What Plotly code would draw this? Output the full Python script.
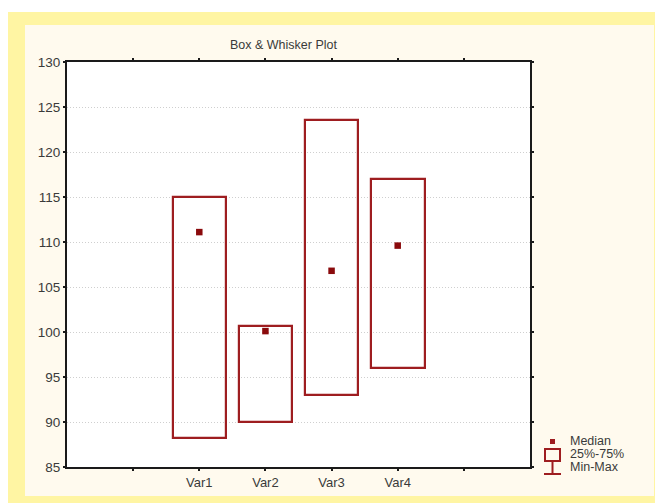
import plotly.graph_objects as go

# ---- data ----
categories = ["Var1", "Var2", "Var3", "Var4"]
q1 = [88.2, 90.0, 93.0, 96.0]
q3 = [115.0, 100.7, 123.6, 117.0]
median = [111.1, 100.1, 106.8, 109.6]
y_ticks = [85, 90, 95, 100, 105, 110, 115, 120, 125, 130]
legend_labels = ["Median", "25%-75%", "Min-Max"]

OFF = 8  # page body margin
W, H = 663 - OFF, 503 - OFF
L, R, T, B = 67 - OFF, 530 - OFF, 62 - OFF, 467 - OFF  # plot area in figure pixels


def X(px):
    return (px - OFF - L) / (R - L)


def Y(py):
    return (B - (py - OFF)) / (B - T)


RED = "#9E1D20"
DARK = "#8A0A0C"
TXT = "#3A3A3A"
FONT = "Liberation Sans, Arial, sans-serif"

xpos = [i + 2 for i in range(len(categories))]

fig = go.Figure()
fig.add_trace(go.Bar(
    x=xpos,
    y=[b - a for a, b in zip(q1, q3)],
    base=q1,
    width=0.81,
    marker=dict(color="rgba(255,255,255,0)", line=dict(color=RED, width=2.2)),
    showlegend=False,
    hoverinfo="skip",
))
fig.add_trace(go.Scatter(
    x=xpos, y=median, mode="markers",
    marker=dict(symbol="square", size=6.5, color=DARK),
    showlegend=False,
))

shapes = [
    dict(type="rect", xref="paper", yref="paper", x0=X(8), x1=X(663), y0=Y(503), y1=Y(12),
         fillcolor="#FFF5A3", line=dict(width=0), layer="below"),
    dict(type="rect", xref="paper", yref="paper", x0=X(25), x1=X(654), y0=Y(496), y1=Y(25),
         fillcolor="#FFFAEE", line=dict(width=0), layer="below"),
    dict(type="rect", xref="paper", yref="paper", x0=0, x1=1, y0=0, y1=1,
         fillcolor="white", line=dict(width=0), layer="below"),
    # legend icon
    dict(type="rect", xref="paper", yref="paper", x0=X(550), x1=X(555), y0=Y(444), y1=Y(439),
         fillcolor=RED, line=dict(width=0)),
    dict(type="rect", xref="paper", yref="paper", x0=X(545), x1=X(560), y0=Y(461), y1=Y(449),
         fillcolor="rgba(0,0,0,0)", line=dict(color=RED, width=2)),
    dict(type="line", xref="paper", yref="paper", x0=X(552.5), x1=X(552.5), y0=Y(474), y1=Y(461),
         line=dict(color=RED, width=2)),
    dict(type="line", xref="paper", yref="paper", x0=X(544), x1=X(561), y0=Y(474), y1=Y(474),
         line=dict(color=RED, width=2)),
]

annotations = [
    dict(text="Box & Whisker Plot", xref="paper", yref="paper", x=X(284), y=Y(45),
         showarrow=False, font=dict(size=12.5, color=TXT, family=FONT), xanchor="center", yanchor="middle"),
]
for i, lab in enumerate(legend_labels):
    annotations.append(dict(text=lab, xref="paper", yref="paper", x=X(568), y=Y(441 + 13 * i),
                            showarrow=False, font=dict(size=12.5, color=TXT, family=FONT),
                            xanchor="left", yanchor="middle"))

fig.update_layout(
    width=W, height=H,
    margin=dict(l=L, r=W - R, t=T, b=H - B, pad=0),
    paper_bgcolor="white",
    plot_bgcolor="rgba(0,0,0,0)",
    shapes=shapes,
    annotations=annotations,
    font=dict(family=FONT, size=13, color=TXT),
    bargap=0,
)
fig.update_xaxes(
    range=[0, 7],
    tickvals=[1, 2, 3, 4, 5, 6],
    ticktext=[""] + categories + [""],
    showgrid=False, zeroline=False,
    showline=True, linecolor="#1a1a1a", linewidth=2, mirror="allticks",
    ticks="outside", ticklen=2, tickwidth=2, tickcolor="#1a1a1a",
    tickfont=dict(size=13, color=TXT),
)
fig.update_yaxes(
    range=[85, 130],
    tickvals=y_ticks,
    showgrid=True, gridcolor="#CFCFCF", griddash="1px,2px", gridwidth=1,
    zeroline=False,
    showline=True, linecolor="#1a1a1a", linewidth=2, mirror="allticks",
    ticks="outside", ticklen=2, tickwidth=2, tickcolor="#1a1a1a",
    tickfont=dict(size=13.5, color=TXT),
)

fig.write_html("out.html")
